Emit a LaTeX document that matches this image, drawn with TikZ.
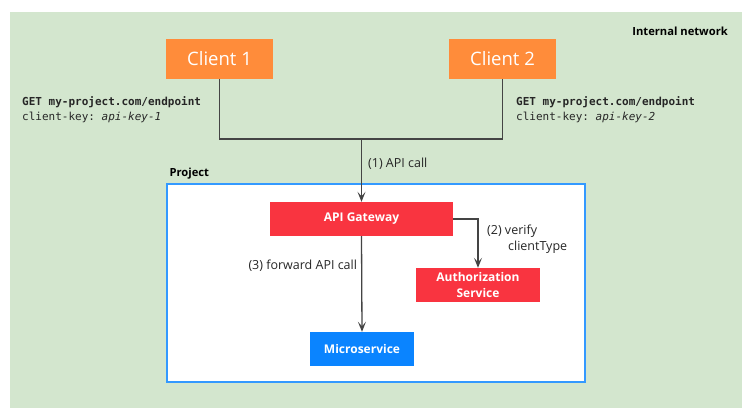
\documentclass[tikz,border=0pt]{standalone}
\usepackage{fontspec}
\setmainfont{Open Sans}
\setmonofont{DejaVu Sans Mono}
\usetikzlibrary{positioning,calc}
\usetikzlibrary{arrows.meta}
\definecolor{NetGreen}{RGB}{211,230,206}
\definecolor{ClientOrange}{RGB}{255,140,58}
\definecolor{SvcRed}{RGB}{249,52,64}
\definecolor{SvcBlue}{RGB}{10,132,255}
\definecolor{ProjBlue}{RGB}{51,153,255}
\definecolor{LinkGray}{RGB}{68,68,68}
\tikzset{
  client/.style={fill=ClientOrange,text=white,font=\fontsize{18.5}{22}\selectfont,
    minimum width=107pt,minimum height=40pt,inner sep=0pt},
  svc/.style={fill=SvcRed,text=white,font=\fontsize{12}{16}\selectfont\bfseries,
    align=center,minimum height=34pt,inner sep=0pt},
  link/.style={draw=LinkGray,line width=1.3pt},
  call/.style={link,-{Stealth[length=10pt,width=8pt,inset=4.5pt]}},
  lbl/.style={font=\fontsize{12.5}{16}\selectfont,text=black!85,inner sep=0pt},
  req/.style={font=\fontsize{11}{15}\selectfont\ttfamily,align=left,anchor=west,
    inner sep=0pt,text=black!85},
  tag/.style={font=\fontsize{11.2}{13}\selectfont\bfseries,inner sep=0pt},
}

\begin{document}
\begin{tikzpicture}[x=1pt,y=-1pt]
\useasboundingbox (0,0) rectangle (746,415);
\fill[NetGreen] (10,12) rectangle (742,408);
\node[tag,anchor=east] (net) at (728,31) {Internal network};
% project area
\node[draw=ProjBlue,line width=1.2pt,fill=white,minimum width=418pt,minimum height=198pt,inner sep=0pt] (proj) at (376,283) {};
\node[tag,anchor=south west] (projlbl) at ($(proj.north west)+(3,-4)$) {Project};
% clients
\node[client] (c1) at (219.5,59) {Client 1};
\node[client] (c2) at (502.5,59) {Client 2};
\node[req] (req1) at (22,110) {\textbf{GET my-project.com/endpoint}\\client-key: \textit{api-key-1}};
\node[req] (req2) at (516,110) {\textbf{GET my-project.com/endpoint}\\client-key: \textit{api-key-2}};
% services
\node[svc,minimum width=183pt] (gw) at (361.5,219) {API Gateway};
\node[svc,minimum width=124pt] (auth) at (478,285) {Authorization\\Service};
\node[svc,fill=SvcBlue,minimum width=104pt] (ms) at (362,349) {Microservice};
\coordinate (join) at (361.5,139);
\draw[link] (c1.south) |- (join) -| (c2.south);
\draw[call] (join) -- (gw.north) node[lbl,pos=0.4,right=6pt] (l1) {(1) API call};
\draw[call] (gw.east) -| (auth.north);
\node[lbl,align=left,anchor=north west] (l2) at (487,225) {(2) verify\\\hspace*{21pt}clientType};
\draw[call] (gw.south) -- (ms.north) node[lbl,pos=0.31,left=4pt] (l3) {(3) forward API call};
\end{tikzpicture}
\end{document}
